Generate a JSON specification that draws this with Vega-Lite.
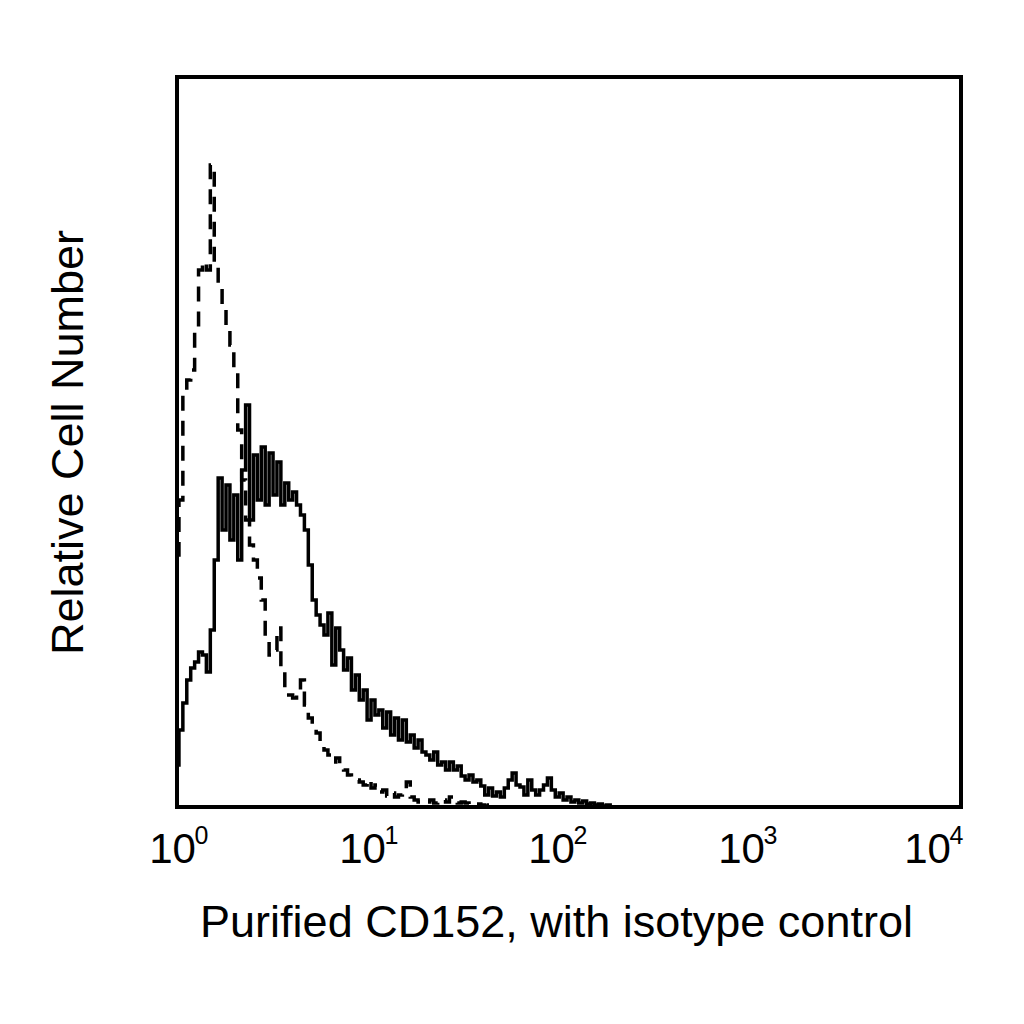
{
  "$schema": "https://vega.github.io/schema/vega-lite/v6.json",
  "width": 784,
  "height": 730,
  "autosize": {"type": "none"},
  "padding": {"left": 177, "top": 77, "right": 63, "bottom": 217},
  "background": "white",
  "config": {
    "view": {"stroke": "black", "strokeWidth": 4},
    "font": "Liberation Sans"
  },
  "datasets": {
    "cd152": [
      {"intensity":1,"count":42},{"intensity":1.047,"count":77},{"intensity":1.096,"count":104},{"intensity":1.148,"count":127},
      {"intensity":1.202,"count":139},{"intensity":1.259,"count":145},{"intensity":1.318,"count":155},{"intensity":1.38,"count":152},
      {"intensity":1.445,"count":135},{"intensity":1.514,"count":177},{"intensity":1.585,"count":247},{"intensity":1.66,"count":329},
      {"intensity":1.738,"count":277},{"intensity":1.82,"count":322},{"intensity":1.905,"count":267},{"intensity":1.995,"count":312},
      {"intensity":2.089,"count":247},{"intensity":2.188,"count":337},{"intensity":2.291,"count":402},{"intensity":2.399,"count":287},
      {"intensity":2.512,"count":352},{"intensity":2.63,"count":307},{"intensity":2.754,"count":360},{"intensity":2.884,"count":302},
      {"intensity":3.02,"count":354},{"intensity":3.162,"count":312},{"intensity":3.311,"count":345},{"intensity":3.467,"count":302},
      {"intensity":3.631,"count":324},{"intensity":3.802,"count":307},{"intensity":3.981,"count":315},{"intensity":4.169,"count":302},
      {"intensity":4.365,"count":292},{"intensity":4.571,"count":277},{"intensity":4.786,"count":242},{"intensity":5.012,"count":207},
      {"intensity":5.248,"count":192},{"intensity":5.495,"count":182},{"intensity":5.754,"count":172},{"intensity":6.026,"count":194},
      {"intensity":6.31,"count":142},{"intensity":6.607,"count":179},{"intensity":6.918,"count":157},{"intensity":7.244,"count":137},
      {"intensity":7.586,"count":149},{"intensity":7.943,"count":117},{"intensity":8.318,"count":132},{"intensity":8.71,"count":107},
      {"intensity":9.12,"count":117},{"intensity":9.55,"count":87},{"intensity":10,"count":107},{"intensity":10.47,"count":92},
      {"intensity":10.96,"count":97},{"intensity":11.48,"count":79},{"intensity":12.02,"count":95},{"intensity":12.59,"count":72},
      {"intensity":13.18,"count":89},{"intensity":13.8,"count":67},{"intensity":14.45,"count":87},{"intensity":15.14,"count":65},
      {"intensity":15.85,"count":72},{"intensity":16.6,"count":59},{"intensity":17.38,"count":67},{"intensity":18.2,"count":55},
      {"intensity":19.05,"count":52},{"intensity":19.95,"count":47},{"intensity":20.89,"count":55},{"intensity":21.88,"count":42},
      {"intensity":22.91,"count":45},{"intensity":23.99,"count":37},{"intensity":25.12,"count":45},{"intensity":26.3,"count":37},
      {"intensity":27.54,"count":41},{"intensity":28.84,"count":31},{"intensity":30.2,"count":27},{"intensity":31.62,"count":32},
      {"intensity":33.11,"count":25},{"intensity":34.67,"count":27},{"intensity":36.31,"count":21},{"intensity":38.02,"count":12},
      {"intensity":39.81,"count":19},{"intensity":41.69,"count":11},{"intensity":43.65,"count":15},{"intensity":45.71,"count":10},
      {"intensity":47.86,"count":19},{"intensity":50.12,"count":27},{"intensity":52.48,"count":34},{"intensity":54.95,"count":22},
      {"intensity":57.54,"count":20},{"intensity":60.26,"count":12},{"intensity":63.1,"count":27},{"intensity":66.07,"count":17},
      {"intensity":69.18,"count":12},{"intensity":72.44,"count":17},{"intensity":75.86,"count":22},{"intensity":79.43,"count":29},
      {"intensity":83.18,"count":17},{"intensity":87.1,"count":10},{"intensity":91.2,"count":14},{"intensity":95.5,"count":7},
      {"intensity":100,"count":10},{"intensity":104.7,"count":5},{"intensity":109.6,"count":7},{"intensity":114.8,"count":4},
      {"intensity":120.2,"count":6},{"intensity":125.9,"count":3},{"intensity":131.8,"count":4},{"intensity":138,"count":2},
      {"intensity":144.5,"count":3},{"intensity":151.4,"count":1},{"intensity":158.5,"count":2},{"intensity":166,"count":0}
    ],
    "isotype": [
      {"intensity":1,"count":252},{"intensity":1.047,"count":307},{"intensity":1.096,"count":417},{"intensity":1.148,"count":427},
      {"intensity":1.202,"count":437},{"intensity":1.259,"count":477},{"intensity":1.318,"count":537},{"intensity":1.38,"count":545},
      {"intensity":1.445,"count":537},{"intensity":1.514,"count":642},{"intensity":1.585,"count":547},{"intensity":1.66,"count":522},
      {"intensity":1.738,"count":502},{"intensity":1.82,"count":477},{"intensity":1.905,"count":462},{"intensity":1.995,"count":437},
      {"intensity":2.089,"count":377},{"intensity":2.188,"count":327},{"intensity":2.291,"count":287},{"intensity":2.399,"count":262},
      {"intensity":2.512,"count":247},{"intensity":2.63,"count":229},{"intensity":2.754,"count":207},{"intensity":2.884,"count":167},
      {"intensity":3.02,"count":152},{"intensity":3.162,"count":157},{"intensity":3.311,"count":179},{"intensity":3.467,"count":139},
      {"intensity":3.631,"count":117},{"intensity":3.802,"count":112},{"intensity":3.981,"count":109},{"intensity":4.169,"count":117},
      {"intensity":4.365,"count":127},{"intensity":4.571,"count":102},{"intensity":4.786,"count":89},{"intensity":5.012,"count":82},
      {"intensity":5.248,"count":74},{"intensity":5.495,"count":62},{"intensity":5.754,"count":57},{"intensity":6.026,"count":52},
      {"intensity":6.31,"count":45},{"intensity":6.607,"count":49},{"intensity":6.918,"count":39},{"intensity":7.244,"count":37},
      {"intensity":7.586,"count":32},{"intensity":7.943,"count":29},{"intensity":8.318,"count":27},{"intensity":8.71,"count":25},
      {"intensity":9.12,"count":22},{"intensity":9.55,"count":27},{"intensity":10,"count":19},{"intensity":10.47,"count":22},
      {"intensity":10.96,"count":15},{"intensity":11.48,"count":17},{"intensity":12.02,"count":11},{"intensity":12.59,"count":14},
      {"intensity":13.18,"count":10},{"intensity":13.8,"count":12},{"intensity":14.45,"count":15},{"intensity":15.14,"count":25},
      {"intensity":15.85,"count":10},{"intensity":16.6,"count":7},{"intensity":17.38,"count":5},{"intensity":18.2,"count":6},
      {"intensity":19.05,"count":5},{"intensity":19.95,"count":7},{"intensity":20.89,"count":4},{"intensity":21.88,"count":5},
      {"intensity":22.91,"count":7},{"intensity":23.99,"count":5},{"intensity":25.12,"count":10},{"intensity":26.3,"count":7},
      {"intensity":27.54,"count":4},{"intensity":28.84,"count":5},{"intensity":30.2,"count":4},{"intensity":31.62,"count":3},
      {"intensity":33.11,"count":2},{"intensity":34.67,"count":3},{"intensity":36.31,"count":2},{"intensity":38.02,"count":1},
      {"intensity":39.81,"count":2},{"intensity":41.69,"count":1},{"intensity":43.65,"count":0},{"intensity":45.71,"count":0}
    ]
  },
  "resolve": {"scale": {"x": "shared", "y": "shared"}, "axis": {"x": "independent"}},
  "layer": [
    {
      "data": {"name": "isotype"},
      "mark": {"type": "line", "interpolate": "step", "strokeWidth": 3.5, "color": "black", "strokeDash": [15, 10], "clip": true},
      "encoding": {
        "x": {
          "field": "intensity", "type": "quantitative",
          "scale": {"type": "log", "domain": [1, 10000], "nice": false},
          "axis": {
            "orient": "bottom",
            "values": [1, 10, 100, 1000, 10000],
            "labelExpr": "'10'",
            "title": "Purified CD152, with isotype control",
            "domain": false, "ticks": false, "tickSize": 0, "grid": false,
            "labelFont": "Liberation Sans", "labelFontSize": 42, "labelColor": "black",
            "labelBaseline": "alphabetic", "labelPadding": 55,
            "labelFlush": false, "labelOverlap": false,
            "labelOffset": {
              "condition": [
                {"test": "datum.value == 1", "value": -5},
                {"test": "datum.value == 10", "value": -11},
                {"test": "datum.value == 100", "value": -18},
                {"test": "datum.value == 1000", "value": -24}
              ],
              "value": -34
            },
            "titleFont": "Liberation Sans", "titleFontSize": 45, "titleFontWeight": "normal", "titleColor": "black",
            "titlePadding": 30, "titleX": 379
          }
        },
        "y": {
          "field": "count", "type": "quantitative",
          "scale": {"domain": [0, 730], "nice": false, "zero": true},
          "axis": {
            "title": "Relative Cell Number",
            "labels": false, "ticks": false, "tickSize": 0, "domain": false, "grid": false,
            "titleFont": "Liberation Sans", "titleFontSize": 45, "titleFontWeight": "normal", "titleColor": "black",
            "titlePadding": 86
          }
        }
      }
    },
    {
      "data": {"name": "cd152"},
      "mark": {"type": "line", "interpolate": "step", "strokeWidth": 3.5, "color": "black", "clip": true},
      "encoding": {
        "x": {
          "field": "intensity", "type": "quantitative",
          "axis": {
            "orient": "bottom",
            "values": [1, 10, 100, 1000, 10000],
            "labelExpr": "'' + round(log(datum.value)/LN10)",
            "title": null,
            "domain": false, "ticks": false, "tickSize": 0, "grid": false,
            "labelFont": "Liberation Sans", "labelFontSize": 25, "labelColor": "black",
            "labelBaseline": "alphabetic", "labelAlign": "left", "labelPadding": 36,
            "labelFlush": false, "labelOverlap": false,
            "labelOffset": {
              "condition": [
                {"test": "datum.value == 1", "value": 17},
                {"test": "datum.value == 10", "value": 11},
                {"test": "datum.value == 100", "value": 4},
                {"test": "datum.value == 1000", "value": -2}
              ],
              "value": -12
            }
          }
        },
        "y": {"field": "count", "type": "quantitative"}
      }
    }
  ]
}
